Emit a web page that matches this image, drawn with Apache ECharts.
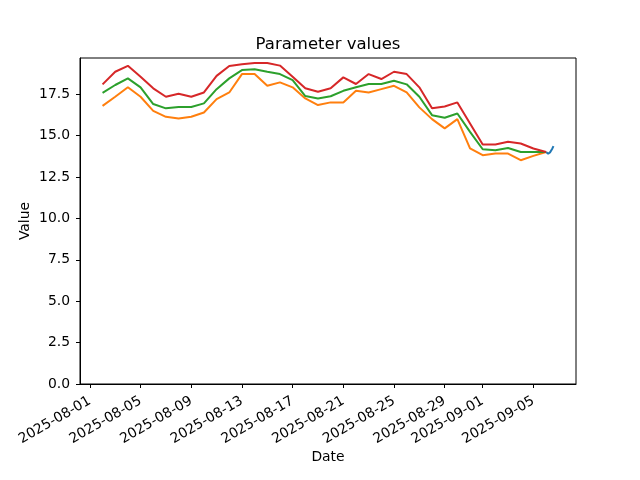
<!DOCTYPE html>
<html>
<head>
<meta charset="utf-8">
<script src="https://cdn.jsdelivr.net/npm/echarts@6/dist/echarts.min.js"></script>
<style>html,body{margin:0;padding:0;background:#fff}#c{width:640px;height:480px}</style>
</head>
<body>
<div id="c"></div>
<script>
var dates = ["2025-08-02","2025-08-03","2025-08-04","2025-08-05","2025-08-06","2025-08-07","2025-08-08","2025-08-09","2025-08-10","2025-08-11","2025-08-12","2025-08-13","2025-08-14","2025-08-15","2025-08-16","2025-08-17","2025-08-18","2025-08-19","2025-08-20","2025-08-21","2025-08-22","2025-08-23","2025-08-24","2025-08-25","2025-08-26","2025-08-27","2025-08-28","2025-08-29","2025-08-30","2025-08-31","2025-09-01","2025-09-02","2025-09-03","2025-09-04","2025-09-05","2025-09-06"];
var upper = [18.09,18.85,19.21,18.55,17.85,17.34,17.52,17.34,17.60,18.60,19.20,19.30,19.38,19.38,19.22,18.55,17.85,17.64,17.85,18.51,18.11,18.71,18.41,18.85,18.71,17.91,16.64,16.75,17.00,15.73,14.46,14.46,14.62,14.52,14.22,14.01];
var middle = [17.58,18.05,18.45,17.91,16.90,16.64,16.72,16.72,16.94,17.80,18.45,18.95,19.00,18.85,18.71,18.35,17.38,17.24,17.37,17.70,17.91,18.11,18.11,18.31,18.09,17.34,16.23,16.07,16.33,15.22,14.17,14.11,14.25,14.01,14.01,14.01];
var lower = [16.79,17.34,17.91,17.34,16.49,16.13,16.03,16.13,16.39,17.20,17.60,18.71,18.71,18.00,18.21,17.91,17.24,16.84,17.00,17.00,17.70,17.60,17.80,18.00,17.60,16.70,15.99,15.43,15.99,14.22,13.81,13.91,13.91,13.51,13.77,14.01];
var obsTimes = ["2025-09-06T00:00","2025-09-06T02:00","2025-09-06T04:00","2025-09-06T06:00","2025-09-06T08:00","2025-09-06T10:00","2025-09-06T12:00","2025-09-06T14:00"];
var obsValues = [14.01,13.95,13.90,13.93,14.00,14.10,14.22,14.36];
var xTickLabels = ["2025-08-01","2025-08-05","2025-08-09","2025-08-13","2025-08-17","2025-08-21","2025-08-25","2025-08-29","2025-09-01","2025-09-05"];
var yTicks = [0,2.5,5,7.5,10,12.5,15,17.5];

function ts(s){ return new Date((s.length === 10 ? s + "T00:00" : s) + ":00Z").getTime(); }
function pairs(xs, ys){ return xs.map(function(x,i){ return [ts(x), ys[i]]; }); }

var allT = dates.map(ts).concat(obsTimes.map(ts));
var tMin = Math.min.apply(null, allT), tMax = Math.max.apply(null, allT);
var pad = (tMax - tMin) * 0.05;
var xTickVals = xTickLabels.map(ts);

var font = "DejaVu Sans";
var chart = echarts.init(document.getElementById('c'), null, {renderer:'canvas'});
function line(name, data, color){
  return {name:name, type:'line', data:data, showSymbol:false, symbol:'none', animation:false,
    lineStyle:{color:color, width:2}, itemStyle:{color:color}};
}
chart.setOption({
  animation:false,
  backgroundColor:'#fff',
  title:{text:'Parameter values', left:323, top:31, textAlign:'center',
    textStyle:{fontFamily:font, fontSize:16.5, fontWeight:'normal', color:'#000'}},
  grid:{left:80, right:64, top:58, bottom:96, show:true, borderColor:'#000', borderWidth:1, backgroundColor:'transparent'},
  xAxis:{type:'value', min:tMin - pad, max:tMax + pad, scale:true,
    name:'Date', nameLocation:'middle', nameGap:66, nameMoveOverlap:false,
    nameTextStyle:{fontFamily:font, fontSize:13.9, color:'#000'},
    axisLine:{show:true, onZero:false, lineStyle:{color:'#000', width:1}},
    axisTick:{show:true, length:4, lineStyle:{color:'#000'}, customValues:xTickVals},
    axisLabel:{customValues:xTickVals, rotate:30, margin:16, fontFamily:font, fontSize:13.9, color:'#000',
      formatter:function(v){ return new Date(v).toISOString().slice(0,10); }},
    splitLine:{show:false}},
  yAxis:{type:'value', min:0, max:19.68,
    name:'Value', nameLocation:'middle', nameGap:48, nameRotate:90, nameMoveOverlap:false,
    nameTextStyle:{fontFamily:font, fontSize:13.9, color:'#000'},
    axisLine:{show:true, lineStyle:{color:'#000', width:1}},
    axisTick:{show:true, length:4, lineStyle:{color:'#000'}, customValues:yTicks},
    axisLabel:{customValues:yTicks, margin:10, fontFamily:font, fontSize:13.9, color:'#000',
      formatter:function(v){ return v.toFixed(1); }},
    splitLine:{show:false}},
  series:[
    line('observed', pairs(obsTimes, obsValues), '#1f77b4'),
    line('lower', pairs(dates, lower), '#ff7f0e'),
    line('middle', pairs(dates, middle), '#2ca02c'),
    line('upper', pairs(dates, upper), '#d62728')
  ]
});
</script>
</body>
</html>
